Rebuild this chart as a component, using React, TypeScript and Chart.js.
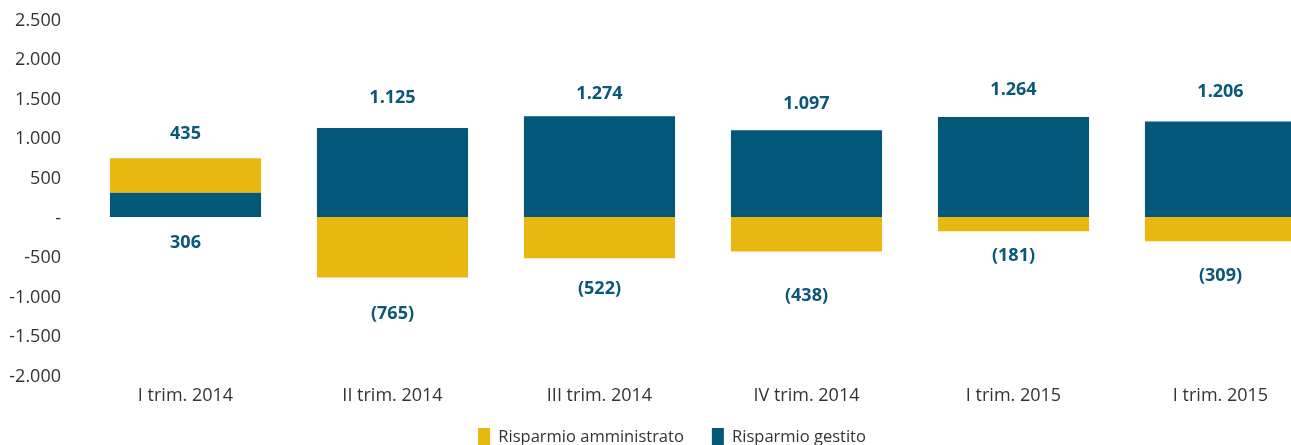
import React, { useEffect, useRef } from "react";
import { Chart, registerables } from "chart.js";

Chart.register(...registerables);

// ---- data ----
const CATEGORIES = [
  "I trim. 2014",
  "II trim. 2014",
  "III trim. 2014",
  "IV trim. 2014",
  "I trim. 2015",
  "I trim. 2015",
];
const RISPARMIO_AMMINISTRATO = [435, -765, -522, -438, -181, -309];
const RISPARMIO_GESTITO = [306, 1125, 1274, 1097, 1264, 1206];
const Y_MIN = -2000;
const Y_MAX = 2500;
const Y_STEP = 500;

// ---- style ----
const COLOR_AMM = "#E8B810";
const COLOR_GEST = "#03587A";
const LABEL_COLOR = "#0A5878";
const TEXT_COLOR = "#333333";
const FONT = "'Open Sans', 'Noto Sans', sans-serif";
// distance (px) of value label centre from bar edge, per category
const LABEL_TOP_GAP = [24, 30, 22, 26, 27, 30];
const LABEL_BOTTOM_GAP = [26, 36, 31, 44, 25, 35];

function fmtThousands(v: number): string {
  const neg = v < 0;
  const s = Math.round(Math.abs(v))
    .toString()
    .replace(/\B(?=(\d{3})+(?!\d))/g, ".");
  return (neg ? "-" : "") + s;
}

function fmtLabel(v: number): string {
  return v < 0 ? `(${fmtThousands(-v)})` : fmtThousands(v);
}

const layoutTweakPlugin = {
  id: "layoutTweak",
  afterLayout(chart: any) {
    if (chart.legend) {
      chart.legend.left += 20;
    }
    if (chart.scales.x) {
      chart.scales.x.bottom += 40;
    }
  },
};

const valueLabelPlugin = {
  id: "valueLabels",
  afterDatasetsDraw(chart: any) {
    const ctx = chart.ctx;
    const metas = chart.getSortedVisibleDatasetMetas();
    const n = chart.data.labels.length;
    ctx.save();
    ctx.fillStyle = LABEL_COLOR;
    ctx.font = `bold 18px ${FONT}`;
    ctx.textAlign = "center";
    ctx.textBaseline = "middle";
    for (let i = 0; i < n; i++) {
      const items = metas.map((m: any) => {
        const el = m.data[i];
        const value = chart.data.datasets[m.index].data[i];
        return {
          x: el.x,
          hi: Math.min(el.y, el.base),
          lo: Math.max(el.y, el.base),
          value,
        };
      });
      let top = items[0];
      items.forEach((it: any) => {
        if (it.hi < top.hi) top = it;
      });
      const rest = items.filter((it: any) => it !== top);
      let bottom = rest[0];
      rest.forEach((it: any) => {
        if (it.lo > bottom.lo) bottom = it;
      });
      ctx.fillText(fmtLabel(top.value), top.x, top.hi - LABEL_TOP_GAP[i]);
      if (bottom) {
        ctx.fillText(
          fmtLabel(bottom.value),
          bottom.x,
          bottom.lo + LABEL_BOTTOM_GAP[i]
        );
      }
    }
    ctx.restore();
  },
};

export default function App() {
  const canvasRef = useRef<HTMLCanvasElement | null>(null);

  useEffect(() => {
    if (!canvasRef.current) return;
    Chart.defaults.font.family = FONT;
    const chart = new Chart(canvasRef.current, {
      type: "bar",
      data: {
        labels: CATEGORIES,
        datasets: [
          {
            label: "Risparmio gestito",
            data: RISPARMIO_GESTITO,
            backgroundColor: COLOR_GEST,
            borderWidth: 0,
            categoryPercentage: 0.73,
            barPercentage: 1,
          },
          {
            label: "Risparmio amministrato",
            data: RISPARMIO_AMMINISTRATO,
            backgroundColor: COLOR_AMM,
            borderWidth: 0,
            categoryPercentage: 0.73,
            barPercentage: 1,
          },
        ],
      },
      options: {
        responsive: false,
        animation: false,
        devicePixelRatio: 1,
        layout: { padding: { top: 19.3, left: 0, right: 0, bottom: 0 } },
        plugins: {
          legend: {
            position: "bottom",
            reverse: true,
            labels: {
              boxWidth: 12,
              boxHeight: 18,
              padding: 28,
              color: TEXT_COLOR,
              font: { size: 16.5, family: FONT },
            },
          },
          tooltip: { enabled: false },
        },
        scales: {
          x: {
            stacked: true,
            grid: { display: false },
            border: { display: false },
            ticks: {
              color: TEXT_COLOR,
              font: { size: 18, family: FONT },
              padding: 2,
              maxRotation: 0,
            },
            afterFit: (scale: any) => {
              scale.height = 25;
            },
          },
          y: {
            stacked: true,
            min: Y_MIN,
            max: Y_MAX,
            grid: { display: false },
            border: { display: false },
            ticks: {
              stepSize: Y_STEP,
              color: TEXT_COLOR,
              font: { size: 18, family: FONT },
              padding: 13,
              labelOffset: 1.5,
              callback: (v: any) => (Number(v) === 0 ? "-" : fmtThousands(Number(v))),
            },
            afterFit: (scale: any) => {
              scale.width = 82;
              scale.paddingTop = 0;
              scale.paddingBottom = 0;
            },
          },
        },
      },
      plugins: [layoutTweakPlugin, valueLabelPlugin],
    });
    return () => chart.destroy();
  }, []);

  return (
    <div
      style={{
        position: "fixed",
        left: 0,
        top: 0,
        width: 1291,
        height: 445,
        overflow: "hidden",
        background: "#ffffff",
      }}
    >
      <canvas
        ref={canvasRef}
        width={1324}
        height={456}
        style={{ position: "absolute", left: 0, top: 0, width: 1324, height: 456 }}
      />
    </div>
  );
}
